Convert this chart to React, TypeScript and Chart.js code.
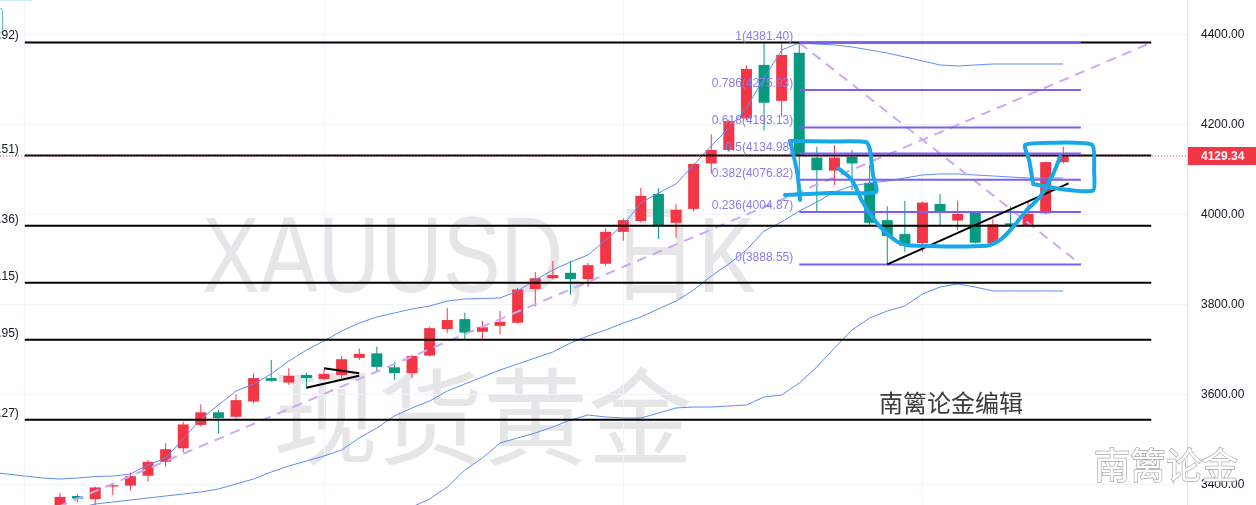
import React, { useEffect, useRef } from "react";
import { Chart, registerables } from "chart.js";

Chart.register(...registerables);

// ---------- data ----------
const candleOpen = [3350, 3374, 3367, 3395, 3397, 3419, 3450, 3480, 3532, 3560, 3550, 3584, 3636, 3626, 3643, 3634, 3643, 3681, 3691, 3660, 3647, 3686, 3745, 3767, 3739, 3752, 3759, 3834, 3858, 3870, 3856, 3890, 3961, 3985, 4045, 3981, 4012, 4113, 4143, 4213, 4332, 4252, 4359, 4126, 4097, 4128, 4070, 3987, 3956, 3936, 4023, 3986, 4004, 3936, 3980, 3976, 4002, 4116];
const candleHigh = [3381, 3378, 3395, 3402, 3426, 3454, 3491, 3539, 3578, 3565, 3600, 3647, 3676, 3658, 3648, 3656, 3685, 3702, 3706, 3672, 3688, 3750, 3792, 3781, 3763, 3785, 3836, 3872, 3896, 3896, 3892, 3969, 3991, 4059, 4058, 4023, 4113, 4178, 4210, 4330, 4380, 4380, 4381.4, 4150, 4154, 4143, 4110, 4018, 4030, 4028, 4045, 4030, 4006, 3989, 4017, 4028, 4117, 4150];
const candleLow = [3340, 3361, 3352, 3376, 3386, 3406, 3439, 3472, 3528, 3513, 3547, 3580, 3628, 3621, 3613, 3632, 3636, 3676, 3650, 3632, 3636, 3684, 3737, 3722, 3722, 3733, 3757, 3795, 3855, 3821, 3839, 3885, 3941, 3981, 3945, 3948, 4007, 4090, 4139, 4210, 4186, 4217, 4085, 4006, 4065, 4054, 3976, 3888.55, 3917, 3917, 3976, 3964, 3935, 3930, 3970, 3974, 4000, 4113];
const candleClose = [3372, 3368, 3393, 3398, 3418, 3450, 3478, 3533, 3560, 3547, 3587, 3636, 3630, 3641, 3636, 3645, 3678, 3690, 3661, 3647, 3685, 3747, 3765, 3737, 3749, 3761, 3833, 3858, 3865, 3856, 3887, 3961, 3987, 4041, 3976, 4010, 4112, 4143, 4207, 4323, 4248, 4354, 4131, 4098, 4126, 4113, 3981, 3952, 3930, 4026, 4007, 4001, 3937, 3978, 3975, 4001, 4116, 4129.34];

const bbUpperStart = -4;
const bbUpper = [3427.3, 3422.9, 3418.4, 3414, 3411.8, 3414, 3417.3, 3418.4, 3422.9, 3442.9, 3458.4, 3500.7, 3545.1, 3576.2, 3607.3, 3622.9, 3645.1, 3674, 3698.4, 3718.4, 3740.7, 3758.4, 3771.8, 3780.7, 3789.6, 3796.2, 3807.3, 3811.8, 3812.9, 3814, 3829.6, 3854, 3876.2, 3894, 3909.6, 3942.9, 3976.2, 4025.1, 4047.3, 4067.3, 4109.6, 4151.8, 4191.8, 4236.2, 4302.9, 4365.1, 4380.7, 4378.4, 4376.2, 4371.8, 4365.1, 4358.4, 4349.6, 4340.7, 4331.8, 4329.6, 4331.8, 4334, 4334, 4334, 4334, 4334];
const bbMiddleStart = -1;
const bbMiddle = [3325.1, 3338.4, 3347.3, 3356.2, 3360.7, 3365.1, 3369.6, 3374, 3378.4, 3382.9, 3389.6, 3400.7, 3411.8, 3427.3, 3440.7, 3451.8, 3462.9, 3476.2, 3502.9, 3525.1, 3551.8, 3569.6, 3585.1, 3607.3, 3622.9, 3638.4, 3654, 3667.3, 3680.7, 3694, 3714, 3729.6, 3742.9, 3758.4, 3771.8, 3789.6, 3807.3, 3831.8, 3862.9, 3889.6, 3920.7, 3962.9, 3982.9, 4007.3, 4027.3, 4049.6, 4062.9, 4069.6, 4074, 4080.7, 4087.3, 4089.6, 4089.6, 4087.3, 4085.1, 4082.9, 4080.7, 4080.7, 4080.7];
const bbLowerStart = 18;
const bbLower = [3309.6, 3331.8, 3349.6, 3367.3, 3394, 3431.8, 3458.4, 3491.8, 3502.9, 3514, 3527.3, 3542.9, 3554, 3549.6, 3547.3, 3547.3, 3558.4, 3569.6, 3571.8, 3571.8, 3574, 3576.2, 3594, 3598.4, 3625.1, 3660.7, 3702.9, 3742.9, 3769.6, 3785.1, 3796.2, 3822.9, 3838.4, 3845.1, 3838.4, 3829.6, 3829.6, 3829.6, 3829.6, 3829.6];

const yTicks = [3400, 3600, 3800, 4000, 4200, 4400];
const xGridTicks = [-2, 15, 32, 49];
const yMin = 3354;
const yMax = 4476.2;
const xMin = -3.41;
const xMax = 64.03;

const hLevels = [4381.92, 4130.51, 3974.36, 3848.15, 3720.95, 3543.27];
const hLineFrom = -2;
const hLineTo = 62;

const fibRatios = [1, 0.786, 0.618, 0.5, 0.382, 0.236, 0];
const fibLevels = [4381.4, 4275.93, 4193.13, 4134.98, 4076.82, 4004.87, 3888.55];
const fibFrom = 42;
const fibTo = 58;

const lastPrice = 4129.34;

const dashedRise = [{ x: -1, y: 3335 }, { x: 62, y: 4381.4 }];
const dashedFall = [{ x: 42, y: 4381.4 }, { x: 58, y: 3888.55 }];

const wedgeLower = [{ x: 14, y: 3614.7 }, { x: 17, y: 3641.3 }];
const wedgeUpper = [{ x: 15, y: 3657.8 }, { x: 17, y: 3646.7 }];
const supportLine = [{ x: 47, y: 3888.55 }, { x: 57.3, y: 4068.9 }];

const markBoxLeftEdge = [{ x: 41.48, y: 4162.9 }, { x: 41.88, y: 4094 }, { x: 42.05, y: 4031.8 }];
const markBoxLeft = [
  { x: 41.48, y: 4162.9 }, { x: 43.75, y: 4161.8 }, { x: 45.8, y: 4160.7 }, { x: 46.02, y: 4142.9 },
  { x: 46.19, y: 4087.3 }, { x: 46.36, y: 4049.6 }, { x: 43.75, y: 4047.3 }, { x: 41.19, y: 4042.9 },
];
const markCurve = [
  { x: 44.22, y: 4102.2 }, { x: 44.98, y: 4076.2 }, { x: 45.64, y: 4024.4 }, { x: 46.59, y: 3972.4 },
  { x: 47.73, y: 3935.6 }, { x: 48.86, y: 3930.2 }, { x: 52.65, y: 3930.2 }, { x: 53.41, y: 3942.9 },
  { x: 54.16, y: 3972.4 }, { x: 54.93, y: 4009.6 }, { x: 55.68, y: 4039.1 }, { x: 56.44, y: 4091.1 },
  { x: 56.82, y: 4128 },
];
const markBoxRight = [
  { x: 55.28, y: 4069.6 }, { x: 55.06, y: 4120.7 }, { x: 54.83, y: 4154 }, { x: 56.42, y: 4159.1 },
  { x: 58.64, y: 4154 }, { x: 58.75, y: 4098.4 }, { x: 58.69, y: 4052.9 }, { x: 56.82, y: 4056.2 },
  { x: 55.28, y: 4067.3 },
];

const watermarkTitle = "XAUUSD, 日K";
const watermarkName = "现货黄金";
const editorText = "南篱论金编辑";
const brandText = "南篱论金";

// ---------- styles ----------
const UP = "#f23645";
const DOWN = "#089981";
const BAND = "#5f8cf2";
const FIB = "#7e5cf6";
const FIB_TEXT = "#8a7cf0";
const DASH = "#cda8f5";
const MARK = "#17a8ea";
const GRID = "#f0f3fa";
const LATIN = '"Liberation Sans", Arial, sans-serif';
const CJK = '"Noto Sans CJK SC", sans-serif';

function lineDs(data: any[], color: string, width: number, order: number, extra: any = {}) {
  return {
    type: "line",
    data,
    borderColor: color,
    borderWidth: width,
    pointRadius: 0,
    pointHoverRadius: 0,
    fill: false,
    tension: 0,
    order,
    ...extra,
  };
}

function zeroPadding(s: any) {
  s.paddingTop = 0;
  s.paddingBottom = 0;
  s.paddingLeft = 0;
  s.paddingRight = 0;
}

const overlayPlugin = {
  id: "overlay",
  beforeDraw(chart: any) {
    const ctx = chart.ctx;
    ctx.save();
    ctx.fillStyle = "#e6e6e9";
    ctx.textAlign = "left";
    ctx.textBaseline = "alphabetic";
    ctx.font = `107px "Liberation Sans", "Noto Sans CJK SC", sans-serif`;
    ctx.translate(202, 292);
    ctx.scale(0.81, 1);
    ctx.fillText(watermarkTitle, 0, 0);
    ctx.restore();

    ctx.save();
    ctx.fillStyle = "#e6e6e9";
    ctx.font = `105px ${CJK}`;
    ctx.textAlign = "center";
    ctx.textBaseline = "middle";
    ctx.fillText(watermarkName, 483, 416);
    ctx.restore();

    // toolbar remnant at top-left
    ctx.save();
    ctx.strokeStyle = "#5bbfc9";
    ctx.lineWidth = 1;
    ctx.beginPath();
    ctx.roundRect(-20.5, 8.5, 23, 24, 2);
    ctx.stroke();
    ctx.strokeStyle = "#cdeef2";
    ctx.beginPath();
    ctx.moveTo(0, 0.5);
    ctx.lineTo(32, 0.5);
    ctx.stroke();
    ctx.restore();
  },
  afterDatasetsDraw(chart: any) {
    const ctx = chart.ctx;
    const x = chart.scales.x;
    const y = chart.scales.y;
    ctx.save();
    ctx.font = `12px ${LATIN}`;
    ctx.textAlign = "right";
    ctx.textBaseline = "alphabetic";
    ctx.fillStyle = "#131722";
    hLevels.forEach((v) => {
      ctx.fillText(`(${v.toFixed(2)})`, x.getPixelForValue(hLineFrom) - 6, y.getPixelForValue(v) - 3);
    });
    ctx.fillStyle = FIB_TEXT;
    fibLevels.forEach((v, k) => {
      ctx.fillText(`${fibRatios[k]}(${v.toFixed(2)})`, x.getPixelForValue(fibFrom) - 6, y.getPixelForValue(v) - 3);
    });

    ctx.font = `24px ${CJK}`;
    ctx.textAlign = "left";
    ctx.textBaseline = "middle";
    ctx.fillStyle = "#3c3c3c";
    ctx.fillText(editorText, 879, 403);

    ctx.font = `36px ${CJK}`;
    ctx.lineWidth = 1.4;
    ctx.strokeStyle = "#a8a8a8";
    ctx.strokeText(brandText, 1094, 465);
    ctx.fillStyle = "#ffffff";
    ctx.fillText(brandText, 1094, 465);

    const py = y.getPixelForValue(lastPrice);
    ctx.fillStyle = UP;
    ctx.fillRect(x.right + 1, Math.round(py) - 9, chart.width - x.right - 1, 18);
    ctx.font = `bold 12px ${LATIN}`;
    ctx.fillStyle = "#ffffff";
    ctx.textAlign = "left";
    ctx.textBaseline = "middle";
    ctx.fillText(lastPrice.toFixed(2), x.right + 14, py + 0.5);
    ctx.restore();
  },
};

export default function App() {
  const ref = useRef<HTMLCanvasElement | null>(null);

  useEffect(() => {
    document.body.style.margin = "0";
    const canvas = ref.current;
    if (!canvas) return;

    const colors = candleOpen.map((o, i) => (candleClose[i] >= o ? UP : DOWN));
    const bodies = candleOpen.map((o, i) => ({ x: i, y: [o, candleClose[i]] }));
    const wicks = candleOpen.map((_, i) => ({ x: i, y: [candleLow[i], candleHigh[i]] }));

    const datasets: any[] = [
      lineDs(markBoxLeftEdge, MARK, 4, 0, { tension: 0.3, borderCapStyle: "round", borderJoinStyle: "round" }),
      lineDs(markBoxLeft, MARK, 4, 0, { tension: 0.2, borderCapStyle: "round", borderJoinStyle: "round" }),
      lineDs(markCurve, MARK, 4, 0, { tension: 0.35, borderCapStyle: "round", borderJoinStyle: "round" }),
      lineDs(markBoxRight, MARK, 4, 0, { tension: 0.2, borderCapStyle: "round", borderJoinStyle: "round" }),
      lineDs(wedgeLower, "#000000", 2, 1),
      lineDs(wedgeUpper, "#000000", 2, 1),
      lineDs(supportLine, "#000000", 2, 1),
      ...fibLevels.map((v) => lineDs([{ x: fibFrom, y: v }, { x: fibTo, y: v }], FIB, 2, 2)),
      lineDs([{ x: xMin, y: lastPrice }, { x: xMax, y: lastPrice }], UP, 1, 3, { borderDash: [1, 2] }),
      ...hLevels.map((v) => lineDs([{ x: hLineFrom, y: v }, { x: hLineTo, y: v }], "#000000", 2, 4)),
      lineDs(dashedRise, DASH, 2, 5, { borderDash: [10, 7] }),
      lineDs(dashedFall, DASH, 2, 5, { borderDash: [10, 7] }),
      lineDs(bbUpper.map((v, k) => ({ x: bbUpperStart + k, y: v })), BAND, 1, 6),
      lineDs(bbMiddle.map((v, k) => ({ x: bbMiddleStart + k, y: v })), BAND, 1, 6),
      lineDs(bbLower.map((v, k) => ({ x: bbLowerStart + k, y: v })), BAND, 1, 6),
      {
        type: "bar",
        data: bodies,
        backgroundColor: colors,
        borderWidth: 0,
        barThickness: 11,
        grouped: false,
        minBarLength: 1,
        inflateAmount: 0,
        order: 7,
      },
      {
        type: "bar",
        data: wicks,
        backgroundColor: colors,
        borderWidth: 0,
        barThickness: 1,
        grouped: false,
        inflateAmount: 0,
        order: 8,
      },
    ];

    const chart = new Chart(canvas, {
      type: "bar",
      data: { datasets },
      options: {
        animation: false,
        responsive: false,
        devicePixelRatio: 1,
        events: [],
        layout: { padding: 0 },
        plugins: { legend: { display: false }, tooltip: { enabled: false } },
        scales: {
          x: {
            type: "linear",
            min: xMin,
            max: xMax,
            offset: false,
            bounds: "data",
            grid: { color: GRID, drawTicks: false, offset: false },
            border: { display: false },
            ticks: { display: false, padding: 0 },
            afterBuildTicks: (s: any) => {
              s.ticks = xGridTicks.map((v) => ({ value: v }));
            },
            afterFit: (s: any) => {
              s.height = 0;
              zeroPadding(s);
            },
          },
          y: {
            type: "linear",
            position: "right",
            min: yMin,
            max: yMax,
            bounds: "data",
            beginAtZero: false,
            grid: { color: GRID, drawTicks: false },
            border: { display: true, color: "#e0e3eb" },
            ticks: {
              padding: 14,
              color: "#131722",
              font: { size: 12, family: LATIN },
              callback: (v: any) => Number(v).toFixed(2),
            },
            afterBuildTicks: (s: any) => {
              s.ticks = yTicks.map((v) => ({ value: v }));
            },
            afterFit: (s: any) => {
              s.width = 69;
              zeroPadding(s);
            },
          },
        },
      } as any,
      plugins: [overlayPlugin],
    } as any);

    return () => chart.destroy();
  }, []);

  return (
    <div style={{ position: "fixed", left: 0, top: 0, width: 1256, height: 505, background: "#ffffff" }}>
      <canvas ref={ref} width={1256} height={505} style={{ display: "block", width: 1256, height: 505 }} />
    </div>
  );
}
